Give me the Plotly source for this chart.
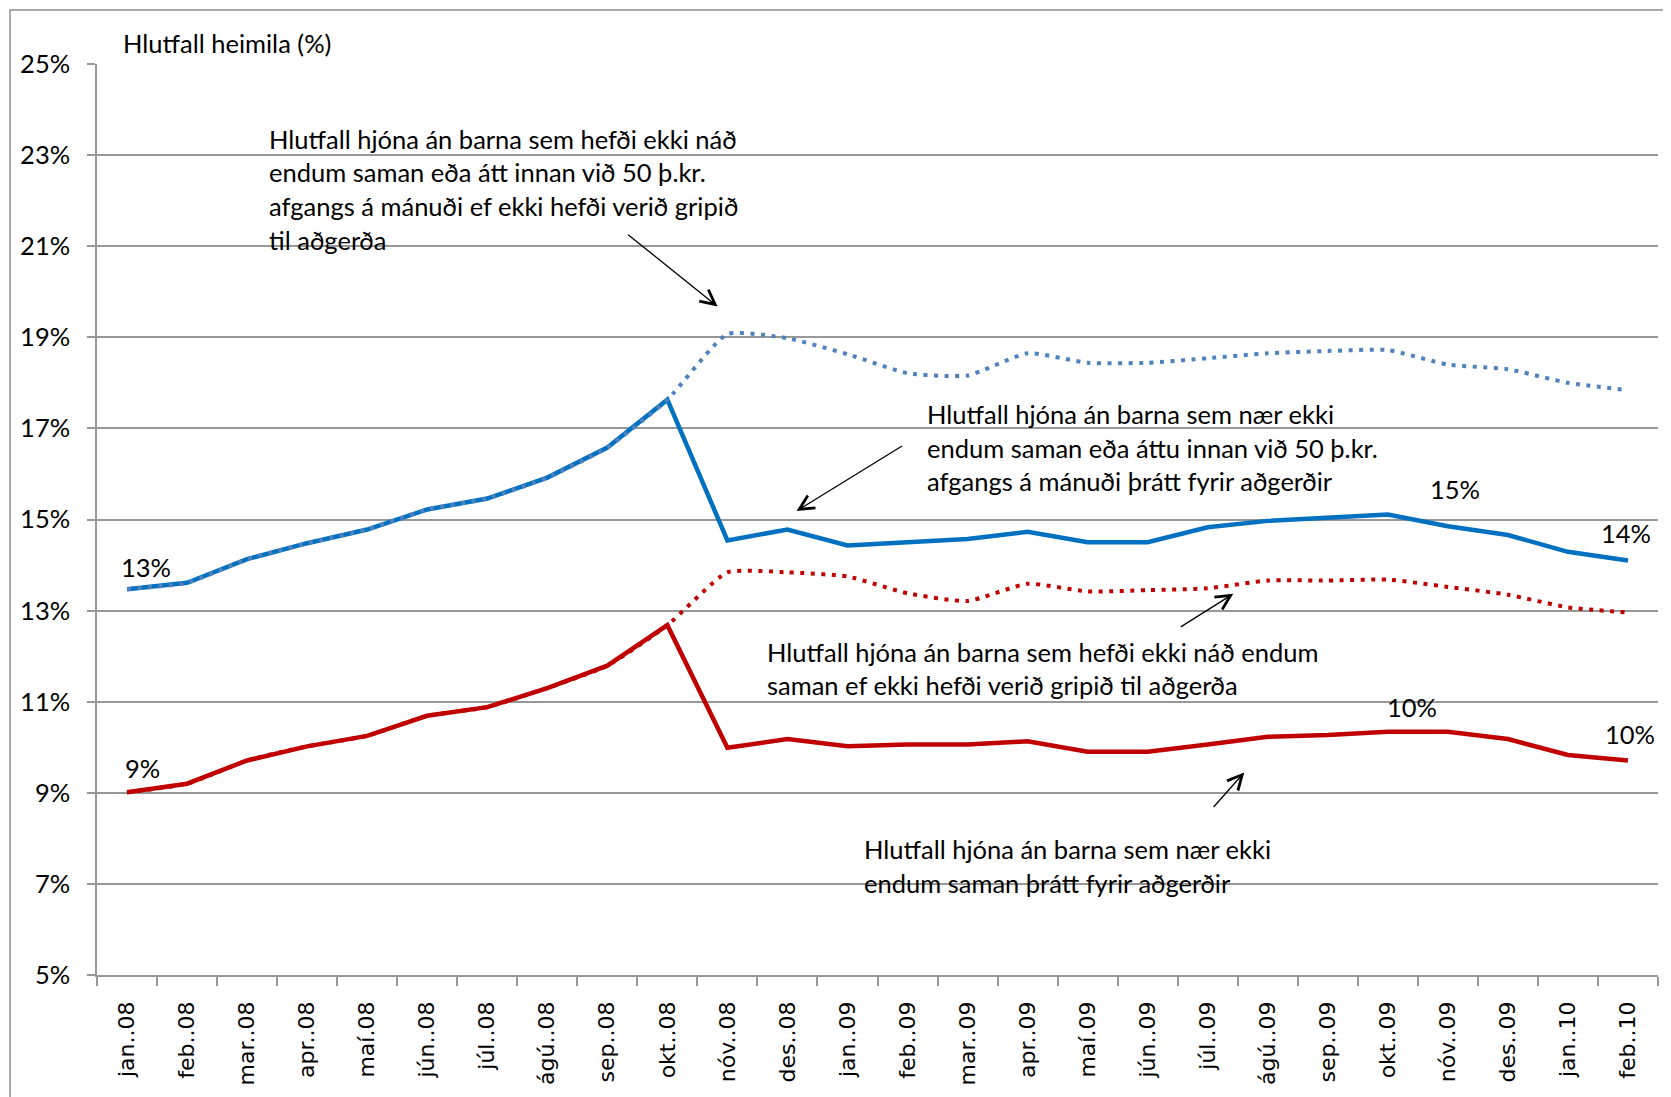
import plotly.graph_objects as go

# ---------------- data ----------------
months = ["jan..08", "feb..08", "mar..08", "apr..08", "maí.08", "jún..08", "júl..08",
          "ágú..08", "sep..08", "okt..08", "nóv..08", "des..08", "jan..09", "feb..09",
          "mar..09", "apr..09", "maí.09", "jún..09", "júl..09", "ágú..09", "sep..09",
          "okt..09", "nóv..09", "des..09", "jan..10", "feb..10"]

# share of childless couples that do not make ends meet / < 50 þ.kr. surplus, after measures
blue_actual = [13.47, 13.61, 14.13, 14.48, 14.78, 15.22, 15.46, 15.92, 16.58, 17.63,
               14.54, 14.78, 14.43, 14.50, 14.57, 14.73, 14.50, 14.50, 14.83, 14.97,
               15.03, 15.11, 14.85, 14.66, 14.29, 14.10]
# same, had no measures been taken
blue_no_measures = [13.47, 13.61, 14.13, 14.48, 14.78, 15.22, 15.46, 15.92, 16.58, 17.63,
                    19.07, 18.98, 18.63, 18.21, 18.16, 18.65, 18.44, 18.44, 18.54, 18.65,
                    18.70, 18.72, 18.40, 18.30, 18.00, 17.84]
# share of childless couples that do not make ends meet, after measures
red_actual = [9.01, 9.20, 9.71, 10.02, 10.25, 10.69, 10.88, 11.30, 11.79, 12.68,
              9.99, 10.18, 10.02, 10.06, 10.06, 10.13, 9.90, 9.90, 10.06, 10.23,
              10.27, 10.34, 10.34, 10.18, 9.83, 9.71]
# same, had no measures been taken
red_no_measures = [9.01, 9.20, 9.71, 10.02, 10.25, 10.69, 10.88, 11.30, 11.79, 12.68,
                   13.84, 13.84, 13.75, 13.38, 13.21, 13.59, 13.42, 13.45, 13.49, 13.66,
                   13.66, 13.68, 13.52, 13.35, 13.07, 12.96]

y_ticks = [5, 7, 9, 11, 13, 15, 17, 19, 21, 23, 25]

# ---------------- layout helpers ----------------
OFF = 8                      # default page body margin of the html page
W, H = 1671 - OFF, 1097 - OFF
ML, MR, MT, MB = 96 - OFF, 13, 64 - OFF, 120


def px(X):   # page pixel -> paper x
    return (X - OFF - ML) / (W - ML - MR)


def py(Y):   # page pixel -> paper y
    return (H - MB - (Y - OFF)) / (H - MT - MB)


BLUE = "#0070C0"
BLUE_DOT = "#4F81BD"
RED = "#C00000"
GRID = "#989898"
TXT_FONT = "Lato"
TXT_SIZE = 25.5

fig = go.Figure()
fig.add_trace(go.Scatter(x=months, y=blue_actual, mode="lines",
                         line=dict(color=BLUE, width=4.5), hoverinfo="skip"))
fig.add_trace(go.Scatter(x=months, y=blue_no_measures, mode="lines",
                         line=dict(color=BLUE_DOT, width=4, dash="4px,6.5px",
                                   shape="spline", smoothing=0.5), hoverinfo="skip"))
fig.add_trace(go.Scatter(x=months, y=red_actual, mode="lines",
                         line=dict(color=RED, width=4.5), hoverinfo="skip"))
fig.add_trace(go.Scatter(x=months, y=red_no_measures, mode="lines",
                         line=dict(color=RED, width=4, dash="4px,6.5px",
                                   shape="spline", smoothing=0.5), hoverinfo="skip"))

shapes = []
# outer chart border
shapes.append(dict(type="rect", xref="paper", yref="paper",
                   x0=px(9), x1=px(1669), y0=py(1110), y1=py(10),
                   line=dict(color="#8c8c8c", width=1.5), fillcolor="rgba(0,0,0,0)",
                   layer="below"))
# white backgrounds of the text boxes (hide gridlines)
for (x0, x1, y0, y1) in [(252, 773, 118, 262), (909, 1430, 395, 500),
                         (748, 1378, 628, 712), (843, 1365, 815, 905)]:
    shapes.append(dict(type="rect", xref="paper", yref="paper",
                       x0=px(x0), x1=px(x1), y0=py(y1), y1=py(y0),
                       line=dict(width=0), fillcolor="white", layer="between"))

annotations = []


def text_block(lines, left, first_y, step):
    for i, t in enumerate(lines):
        annotations.append(dict(text=t, xref="paper", yref="paper",
                                x=px(left), y=py(first_y + i * step),
                                xanchor="left", yanchor="middle", showarrow=False,
                                font=dict(family=TXT_FONT, size=TXT_SIZE, color="black")))


text_block(["Hlutfall hjóna án barna sem hefði ekki náð",
            "endum saman eða átt innan við 50 þ.kr.",
            "afgangs á mánuði ef ekki hefði verið gripið",
            "til aðgerða"], 266, 139, 33.7)
text_block(["Hlutfall hjóna án barna sem nær ekki",
            "endum saman eða áttu innan við 50 þ.kr.",
            "afgangs á mánuði þrátt fyrir aðgerðir"], 925, 415, 33.5)
text_block(["Hlutfall hjóna án barna sem hefði ekki náð endum",
            "saman ef ekki hefði verið gripið til aðgerða"], 764, 653, 33.5)
text_block(["Hlutfall hjóna án barna sem nær ekki",
            "endum saman þrátt fyrir aðgerðir"], 861, 851, 33.5)

# arrows (head, tail) in page pixels
for (hx, hy, tx, ty) in [(717, 307, 626, 234), (796, 512, 903, 446),
                         (1233, 595, 1179, 629), (1244, 774, 1212, 810)]:
    annotations.append(dict(text="", xref="paper", yref="paper", x=px(hx), y=py(hy),
                            ax=tx - hx, ay=ty - hy, showarrow=True, arrowhead=5,
                            arrowsize=2.2, arrowwidth=1.3, arrowcolor="black", standoff=0))

# data labels
for series, idx, xs, ys in [(blue_actual, 0, 19, 22), (red_actual, 0, 15, 24),
                            (blue_actual, 21, 67, 25), (red_actual, 21, 24, 25),
                            (blue_actual, 25, -2, 28), (red_actual, 25, 2, 26)]:
    annotations.append(dict(text=f"{round(series[idx])}%", x=months[idx], y=series[idx],
                            xref="x", yref="y", xshift=xs, yshift=ys, showarrow=False,
                            xanchor="center", yanchor="middle",
                            font=dict(family=TXT_FONT, size=TXT_SIZE, color="black")))

# axis title
annotations.append(dict(text="Hlutfall heimila (%)", xref="paper", yref="paper",
                        x=px(120), y=py(43), xanchor="left", yanchor="middle",
                        showarrow=False,
                        font=dict(family=TXT_FONT, size=TXT_SIZE, color="black")))

fig.update_layout(
    width=W, height=H,
    margin=dict(l=ML, r=MR, t=MT, b=MB, pad=0),
    paper_bgcolor="white", plot_bgcolor="white",
    showlegend=False,
    shapes=shapes, annotations=annotations,
    xaxis=dict(type="category", categoryorder="array", categoryarray=months,
               tickson="boundaries", ticks="outside", ticklen=9, tickcolor=GRID,
               tickwidth=1.5, showline=True, linecolor=GRID, linewidth=1.5,
               showgrid=False, tickangle=-90, range=[-0.5, len(months) - 0.5],
               ticklabelstandoff=16,
               tickfont=dict(family="DejaVu Sans", size=22, color="black")),
    yaxis=dict(range=[5, 25], tickvals=y_ticks, ticktext=[f"{v}%" for v in y_ticks],
               ticks="outside", ticklen=8, tickcolor=GRID, tickwidth=1.5,
               showline=True, linecolor=GRID, linewidth=1.5, ticklabelstandoff=12,
               showgrid=True, gridcolor=GRID, gridwidth=1.5, zeroline=False,
               tickfont=dict(family=TXT_FONT, size=TXT_SIZE, color="black")),
)

fig.write_html("out.html")
